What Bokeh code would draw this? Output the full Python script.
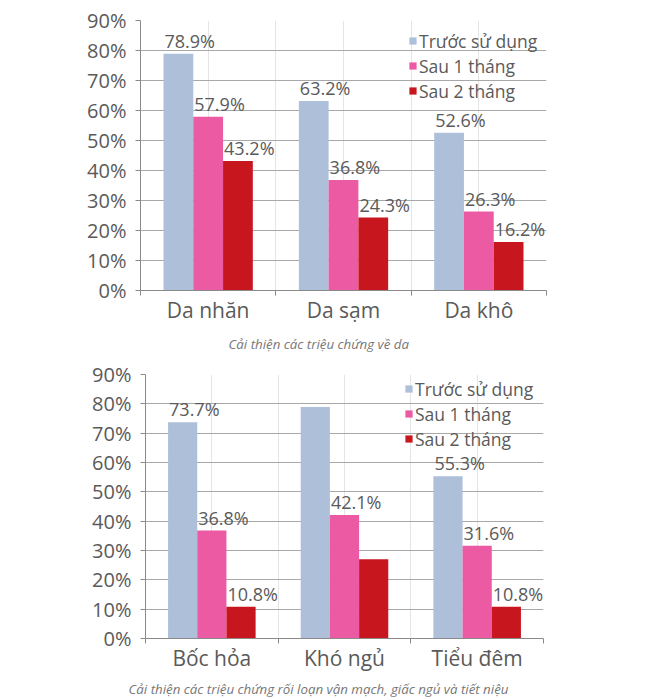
from bokeh.plotting import figure
from bokeh.models import (Range1d, LinearAxis, FixedTicker, PrintfTickFormatter, Grid,
                          Legend, LegendItem, Title, ColumnDataSource)
from bokeh.embed import file_html
from bokeh.resources import INLINE
from bokeh.core.properties import value

# ---------------- data ----------------
series_names = ["Trước sử dụng", "Sau 1 tháng", "Sau 2 tháng"]
y_ticks = [0, 10, 20, 30, 40, 50, 60, 70, 80, 90]

cats_skin = ["Da nhăn", "Da sạm", "Da khô"]
skin_before = [78.9, 63.2, 52.6]
skin_1m = [57.9, 36.8, 26.3]
skin_2m = [43.2, 24.3, 16.2]
skin_show = [[True, True, True], [True, True, True], [True, True, True]]
caption_skin = "Cải thiện các triệu chứng về da"

cats_vaso = ["Bốc hỏa", "Khó ngủ", "Tiểu đêm"]
vaso_before = [73.7, 78.9, 55.3]
vaso_1m = [36.8, 42.1, 31.6]
vaso_2m = [10.8, 27.0, 10.8]
vaso_show = [[True, False, True], [True, True, True], [True, False, True]]
caption_vaso = "Cải thiện các triệu chứng rối loạn vận mạch, giấc ngủ và tiết niệu"

colors = ["#AEBFDA", "#EC5AA4", "#C8161F"]

FONT = "Open Sans"
TXT = "#5a5a5a"
GRID = "#a8a8a8"
AXIS = "#8a8a8a"
BW = 0.22
OFFS = [-BW, 0.0, BW]


def build(cats, s0, s1, s2, show, caption, fw, fh, left, top, total_h,
          leg_loc, cap_offset, cap_standoff):
    n = len(cats)
    p = figure(x_range=Range1d(0, n), y_range=Range1d(0, 90),
               frame_width=fw, frame_height=fh, min_border_left=left,
               min_border_right=650 - left - fw, min_border_top=top,
               min_border_bottom=total_h - top - fh,
               output_backend="svg", toolbar_location=None,
               x_axis_location=None, y_axis_location=None)
    p.outline_line_color = None
    p.background_fill_color = "white"
    p.border_fill_color = "white"

    yax = LinearAxis(ticker=FixedTicker(ticks=y_ticks),
                     formatter=PrintfTickFormatter(format="%d%%"),
                     major_tick_out=5, major_tick_in=0, minor_tick_line_color=None,
                     major_tick_line_color=AXIS, axis_line_color=AXIS,
                     major_label_standoff=9, major_label_text_font_size="20px",
                     major_label_text_font=FONT, major_label_text_color=TXT)
    p.add_layout(yax, "left")
    p.add_layout(Grid(dimension=1, ticker=yax.ticker, grid_line_color=GRID))

    # tick marks at category boundaries
    tick_ax = LinearAxis(ticker=FixedTicker(ticks=list(range(n + 1))),
                         major_tick_out=5, major_tick_in=0, minor_tick_line_color=None,
                         major_tick_line_color=AXIS, axis_line_color=AXIS,
                         major_label_text_font_size="0px", major_label_standoff=0,
                         major_label_text_color=None)
    p.add_layout(tick_ax, "below")
    # category labels at centres
    centers = [i + 0.5 for i in range(n)]
    cax = LinearAxis(ticker=FixedTicker(ticks=centers),
                     major_label_overrides={c: cat for c, cat in zip(centers, cats)},
                     major_tick_line_color=None, minor_tick_line_color=None,
                     axis_line_color=None, major_tick_out=0, major_tick_in=0,
                     major_label_standoff=0, major_label_text_font_size="21px",
                     major_label_text_font=FONT, major_label_text_color=TXT)
    p.add_layout(cax, "below")

    items = []
    for i, vals in enumerate([s0, s1, s2]):
        xs = [j + 0.5 + OFFS[i] for j in range(n)]
        src = ColumnDataSource(dict(x=xs, top=vals, cat=cats))
        r = p.vbar(x="x", top="top", width=BW, source=src,
                   fill_color=colors[i], line_color=None)
        items.append(LegendItem(label=series_names[i], renderers=[r]))
        labs = [f"{v:.1f}%" if show[i][j] else "" for j, v in enumerate(vals)]
        ls = ColumnDataSource(dict(x=[x - BW / 2 for x in xs], v=vals, t=labs))
        p.text(x="x", y="v", text="t", source=ls, text_align="left",
               text_baseline="bottom", x_offset=1, y_offset=-1,
               text_font=value(FONT), text_font_size="18px", text_color=TXT)

    leg = Legend(items=items, location=leg_loc, glyph_width=9, glyph_height=9,
                 label_height=25, spacing=0, padding=0, margin=0, label_standoff=2,
                 label_text_font=FONT, label_text_font_size="17.5px",
                 label_text_color=TXT, background_fill_alpha=0,
                 border_line_color=None)
    p.add_layout(leg)

    p.add_layout(Title(text=caption, align="left", offset=cap_offset,
                       standoff=cap_standoff, text_font=FONT,
                       text_font_style="italic", text_font_size="13.3px",
                       text_color="#777777"), "below")
    return p


p1 = build(cats_skin, skin_before, skin_1m, skin_2m, skin_show, caption_skin,
           406, 270, 140, 20, 355, (268, 187), 88, 12)
p2 = build(cats_vaso, vaso_before, vaso_1m, vaso_2m, vaso_show, caption_vaso,
           398, 264, 145, 16, 338, (259, 187), -17, 6)

open("out.html", "w").write(file_html([p1, p2], INLINE))
